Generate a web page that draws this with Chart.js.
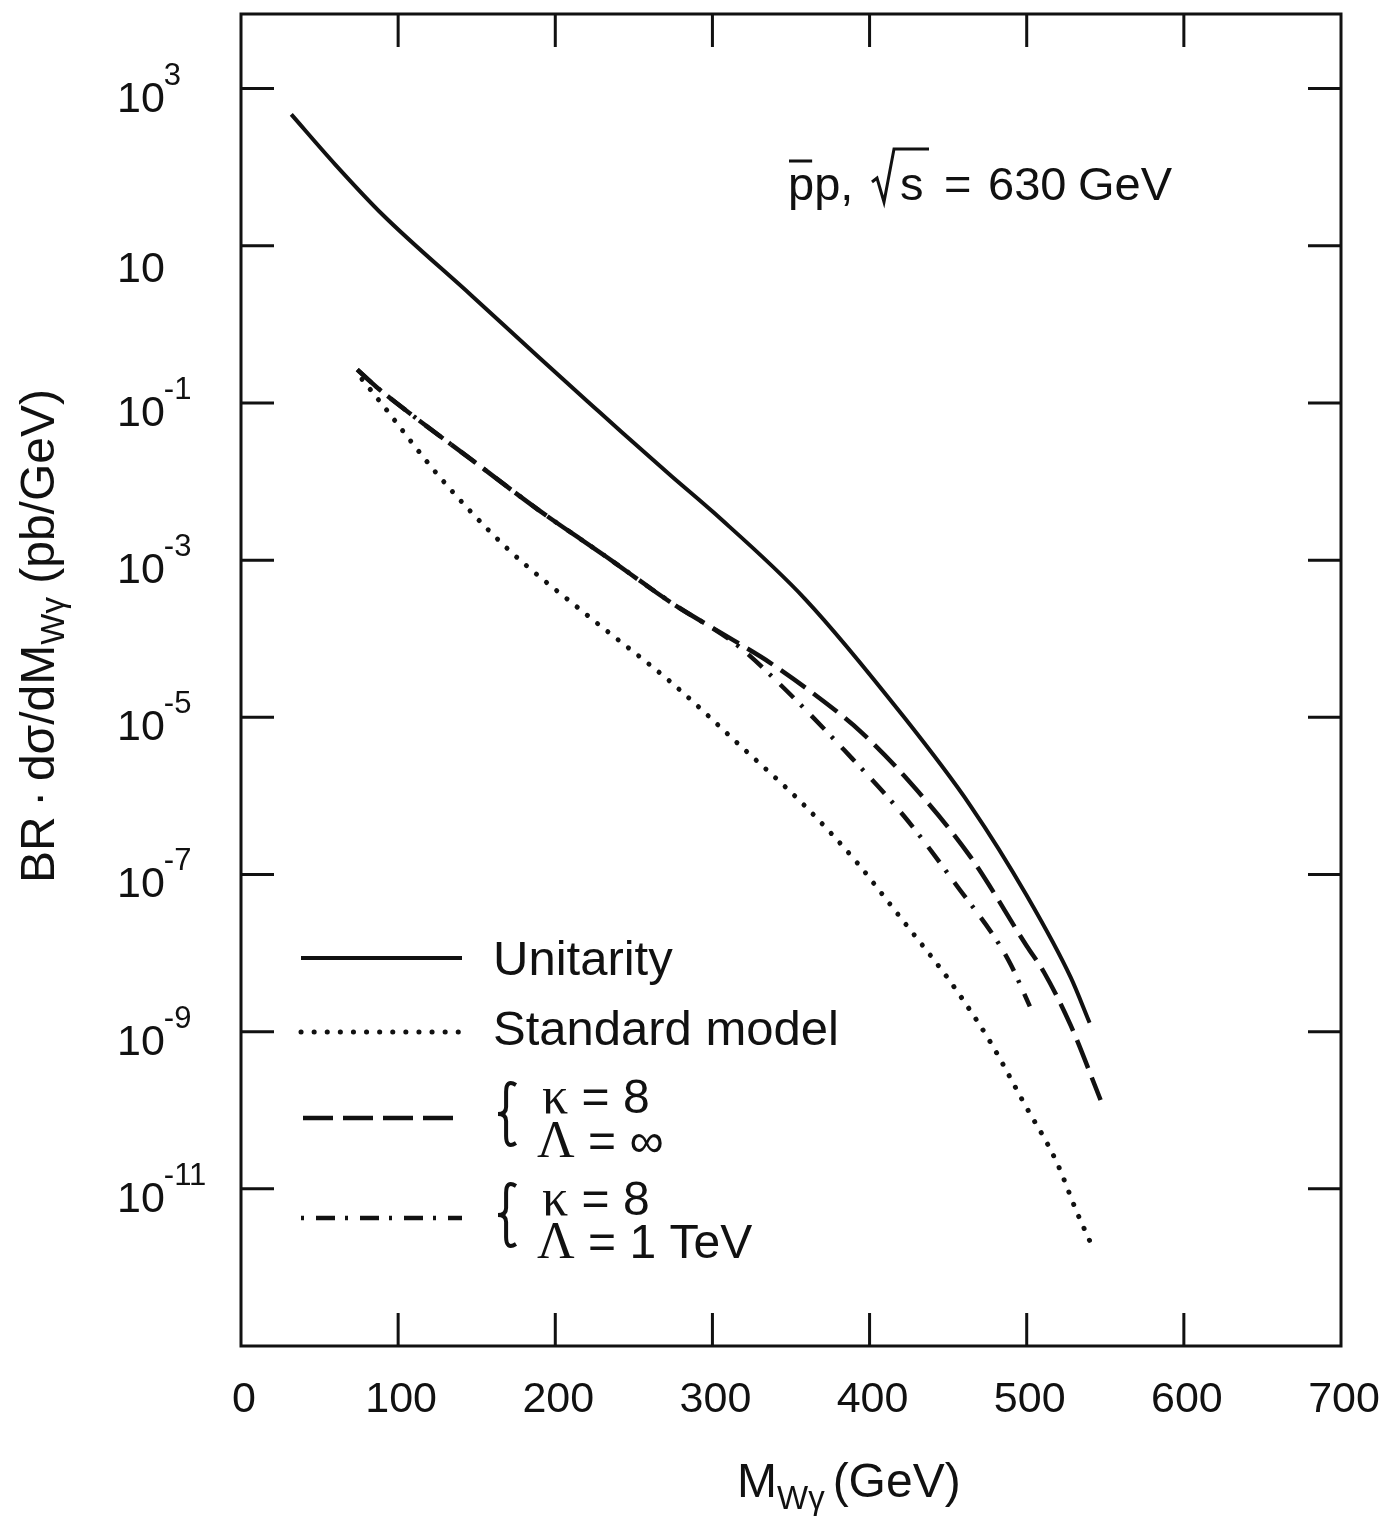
<!DOCTYPE html>
<html>
<head>
<meta charset="utf-8">
<script src="https://cdn.jsdelivr.net/npm/chart.js@4.4.0/dist/chart.umd.min.js"></script>
<style>
  html, body { margin: 0; padding: 0; background: #fff; }
  #wrap { width: 1382px; height: 1519px; position: relative; }
</style>
</head>
<body>
<div id="wrap"><canvas id="c"></canvas></div>
<script>
// values (x in GeV, y in pb/GeV)
const unitX = [32, 60, 90, 147, 189, 225, 242, 274, 301, 359, 422, 464, 500, 528, 540];
const unitY = [470, 108, 25, 2.3, 0.39, 0.087, 0.043, 0.0117, 0.0040, 3.2e-4, 1.0e-5, 7.6e-7, 5.4e-8, 4.9e-9, 1.3e-9];

const smX = [77, 90, 126, 168, 221, 274, 318, 359, 392, 409, 424, 447, 457, 477, 498, 519, 532, 540];
const smY = [0.2, 0.095, 0.0117, 1.5e-3, 1.94e-4, 2.75e-5, 4.3e-6, 7.4e-7, 1.42e-7, 5.3e-8, 2.2e-8, 5.7e-9, 3.0e-9, 7.3e-10, 1.26e-10, 2.2e-11, 5.0e-12, 2.2e-12];

// kappa = 8, Lambda = infinity
const k8InfX = [74, 86, 111, 147, 189, 232, 274, 316, 337, 380, 395, 422, 464, 500, 511, 528, 547];
const k8InfY = [0.265, 0.161, 0.065, 0.0188, 0.0044, 1.12e-3, 2.86e-4, 8.9e-5, 4.9e-5, 1.15e-5, 6.4e-6, 1.8e-6, 1.7e-7, 1.23e-8, 5.7e-9, 1.2e-9, 1.35e-10];

// kappa = 8, Lambda = 1 TeV
const k8TevX = [74, 86, 111, 147, 189, 232, 274, 316, 342, 384, 422, 454, 488, 502];
const k8TevY = [0.265, 0.161, 0.065, 0.0188, 0.0044, 1.12e-3, 2.86e-4, 8.2e-5, 2.75e-5, 3.8e-6, 5.5e-7, 7.9e-8, 8.4e-9, 2.1e-9];

const xTickVals = [100, 200, 300, 400, 500, 600];
const xLabelVals = [0, 100, 200, 300, 400, 500, 600, 700];
const yExps = [3, 1, -1, -3, -5, -7, -9, -11];

const INK = '#111';
const TICK = 33;
const SANS = '"Liberation Sans", Arial, sans-serif';
const SERIF = '"Liberation Serif", "Times New Roman", serif';

const pts = (xs, ys) => xs.map((x, i) => ({ x: x, y: ys[i] }));

const styles = [
  { borderWidth: 4, borderDash: [], borderCapStyle: 'butt' },
  { borderWidth: 5, borderDash: [0.1, 13], borderCapStyle: 'round' },
  { borderWidth: 4.5, borderDash: [30, 10], borderCapStyle: 'butt' },
  { borderWidth: 4.5, borderDash: [19, 10, 3, 12], borderCapStyle: 'butt' }
];

function brace(ctx, x, y0, y1) {
  const ym = (y0 + y1) / 2, w = 18, s = x + w * 0.45;
  ctx.beginPath();
  ctx.moveTo(x + w, y0 + 3);
  ctx.quadraticCurveTo(s, y0 - 3, s, y0 + 10);
  ctx.lineTo(s, ym - 7);
  ctx.quadraticCurveTo(s, ym, x, ym);
  ctx.quadraticCurveTo(s, ym, s, ym + 7);
  ctx.lineTo(s, y1 - 10);
  ctx.quadraticCurveTo(s, y1 + 3, x + w, y1 - 3);
  ctx.stroke();
}

const frame = {
  id: 'frame',
  afterDraw(chart) {
    const { ctx, chartArea: a, scales: { x, y } } = chart;
    ctx.save();
    ctx.strokeStyle = INK;
    ctx.fillStyle = INK;
    ctx.lineWidth = 3;
    ctx.setLineDash([]);
    ctx.strokeRect(a.left, a.top, a.right - a.left, a.bottom - a.top);

    // inward ticks on all four sides
    ctx.beginPath();
    xTickVals.forEach(v => {
      const px = x.getPixelForValue(v);
      ctx.moveTo(px, a.bottom); ctx.lineTo(px, a.bottom - TICK);
      ctx.moveTo(px, a.top); ctx.lineTo(px, a.top + TICK);
    });
    yExps.forEach(e => {
      const py = y.getPixelForValue(Math.pow(10, e));
      ctx.moveTo(a.left, py); ctx.lineTo(a.left + TICK, py);
      ctx.moveTo(a.right, py); ctx.lineTo(a.right - TICK, py);
    });
    ctx.stroke();

    // tick labels
    ctx.textBaseline = 'alphabetic';
    ctx.textAlign = 'center';
    ctx.font = '43px ' + SANS;
    xLabelVals.forEach(v => ctx.fillText(String(v), x.getPixelForValue(v) + 3, 1412));

    ctx.textAlign = 'left';
    yExps.forEach(e => {
      const py = y.getPixelForValue(Math.pow(10, e));
      ctx.font = '43px ' + SANS;
      if (e === 1) {
        ctx.fillText('10', 117, py + 36);
      } else {
        ctx.fillText('10', 117, py + 23);
        const w = ctx.measureText('10').width;
        ctx.font = '31px ' + SANS;
        ctx.fillText(String(e), 116 + w, py - 4);
      }
    });

    // x title
    ctx.font = '48px ' + SANS;
    let tx = 737;
    ctx.fillText('M', tx, 1497);
    tx += ctx.measureText('M').width;
    ctx.font = '33px ' + SANS;
    ctx.fillText('Wγ', tx, 1509);
    tx += ctx.measureText('Wγ').width + 8;
    ctx.font = '48px ' + SANS;
    ctx.fillText('(GeV)', tx, 1497);

    // y title (rotated)
    ctx.save();
    ctx.translate(54, 636);
    ctx.rotate(-Math.PI / 2);
    const partA = 'BR\u2009\u00b7\u2009dσ/dM', partB = 'Wγ', partC = ' (pb/GeV)';
    ctx.font = '48px ' + SANS;
    const wA = ctx.measureText(partA).width, wC = ctx.measureText(partC).width;
    ctx.font = '33px ' + SANS;
    const wB = ctx.measureText(partB).width;
    let ty = -(wA + wB + wC) / 2;
    ctx.font = '48px ' + SANS;
    ctx.fillText(partA, ty, 0); ty += wA;
    ctx.font = '33px ' + SANS;
    ctx.fillText(partB, ty, 10); ty += wB;
    ctx.font = '48px ' + SANS;
    ctx.fillText(partC, ty, 0);
    ctx.restore();

    // annotation: pbar p, sqrt(s) = 630 GeV
    ctx.font = '47px ' + SANS;
    const ab = 200;
    const wp = ctx.measureText('p').width;
    ctx.fillText('pp,', 788, ab);
    ctx.lineWidth = 3;
    ctx.beginPath();
    ctx.moveTo(789, 161); ctx.lineTo(788 + wp - 2, 161);
    // radical sign
    ctx.moveTo(872, 182); ctx.lineTo(877, 178);
    ctx.lineTo(884, 202); ctx.lineTo(894, 149);
    ctx.lineTo(929, 149);
    ctx.stroke();
    ctx.fillText('s', 900, ab);
    ctx.fillText('=', 944, ab);
    ctx.fillText('630', 988, ab);
    ctx.fillText('GeV', 1078, ab);

    // legend
    const rowY = [958, 1032, 1118, 1218];
    chart.data.datasets.forEach((ds, i) => {
      ctx.lineWidth = ds.borderWidth;
      ctx.lineCap = ds.borderCapStyle;
      ctx.setLineDash(ds.borderDash);
      ctx.lineDashOffset = i === 3 ? 29 : 0;
      ctx.beginPath();
      ctx.moveTo(i === 2 ? 303 : 301, rowY[i]);
      ctx.lineTo(462, rowY[i]);
      ctx.stroke();
    });
    ctx.setLineDash([]);
    ctx.lineDashOffset = 0;
    ctx.lineCap = 'butt';
    ctx.font = '49px ' + SANS;
    ctx.fillText('Unitarity', 493, 975);
    ctx.fillText('Standard model', 493, 1045);

    ctx.lineWidth = 4;
    brace(ctx, 498, 1082, 1146);
    brace(ctx, 498, 1183, 1247);

    const param = (lx, base, greek, rest) => {
      ctx.font = '52px ' + SERIF;
      ctx.fillText(greek, lx, base);
      const g = ctx.measureText(greek).width;
      ctx.font = '48px ' + SANS;
      ctx.fillText(rest, lx + g, base);
    };
    param(542, 1113, 'κ', ' = 8');
    param(537, 1157, 'Λ', ' = ∞');
    param(542, 1215, 'κ', ' = 8');
    param(537, 1258, 'Λ', ' = 1 TeV');

    ctx.restore();
  }
};

const datasets = [
  { label: 'Unitarity', data: pts(unitX, unitY) },
  { label: 'Standard model', data: pts(smX, smY) },
  { label: 'κ = 8, Λ = ∞', data: pts(k8InfX, k8InfY) },
  { label: 'κ = 8, Λ = 1 TeV', data: pts(k8TevX, k8TevY) }
].map((d, i) => Object.assign(d, styles[i], {
  showLine: true,
  borderColor: INK,
  pointRadius: 0,
  fill: false,
  cubicInterpolationMode: 'monotone'
}));

new Chart(document.getElementById('c'), {
  type: 'scatter',
  data: { datasets: datasets },
  options: {
    responsive: true,
    maintainAspectRatio: false,
    animation: false,
    layout: { padding: { top: 14, right: 41, left: 0, bottom: 0 } },
    plugins: { legend: { display: false }, tooltip: { enabled: false } },
    scales: {
      x: {
        type: 'linear', min: 0, max: 700,
        ticks: { display: false }, grid: { display: false }, border: { display: false },
        afterFit: s => { s.height = 173; }
      },
      y: {
        type: 'logarithmic', min: 1e-13, max: 8900,
        ticks: { display: false }, grid: { display: false }, border: { display: false },
        afterFit: s => { s.width = 241; }
      }
    }
  },
  plugins: [frame]
});
</script>
</body>
</html>
